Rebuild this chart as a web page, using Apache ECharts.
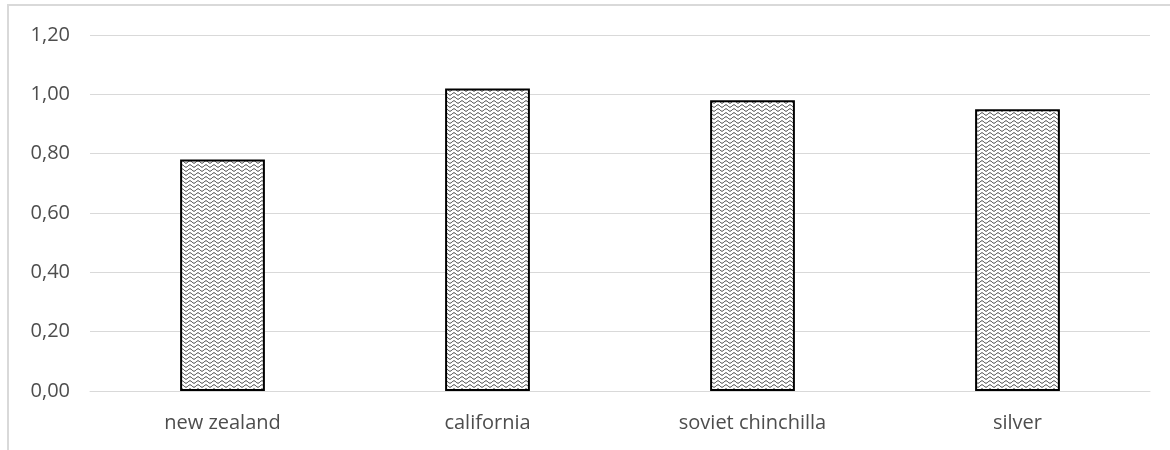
<!DOCTYPE html>
<html>
<head>
<meta charset="utf-8">
<script src="https://cdn.jsdelivr.net/npm/echarts@6/dist/echarts.min.js"></script>
<style>
html,body{margin:0;padding:0;background:#fff;}
#chart{width:1170px;height:450px;}
</style>
</head>
<body>
<div id="chart"></div>
<script>
const categories = ['new zealand', 'california', 'soviet chinchilla', 'silver'];
const values = [0.78, 1.02, 0.98, 0.95];
const yTicks = [0, 0.2, 0.4, 0.6, 0.8, 1.0, 1.2];

function makePattern() {
  const c = document.createElement('canvas');
  c.width = 8; c.height = 4;
  const ctx = c.getContext('2d');
  ctx.fillStyle = '#fff';
  ctx.fillRect(0, 0, 8, 4);
  ctx.strokeStyle = '#333';
  ctx.lineWidth = 1;
  ctx.beginPath();
  for (let x = 0; x <= 8; x += 0.5) {
    const y = 2 + 1.2 * Math.sin(x / 8 * Math.PI * 2);
    if (x === 0) ctx.moveTo(x, y); else ctx.lineTo(x, y);
  }
  ctx.stroke();
  return c;
}

const chart = echarts.init(document.getElementById('chart'));
chart.setOption({
  animation: false,
  backgroundColor: '#fff',
  graphic: [{
    type: 'rect',
    shape: { x: 8, y: 5, width: 1170, height: 460 },
    style: { fill: 'none', stroke: '#d9d9d9', lineWidth: 2 },
    silent: true
  }],
  grid: { left: 90, right: 20, top: 35, bottom: 59 },
  xAxis: {
    type: 'category',
    data: categories,
    axisLine: { show: true, lineStyle: { color: '#d9d9d9', width: 1 } },
    axisTick: { show: false },
    axisLabel: { color: '#4d4d4d', fontSize: 20, fontFamily: 'Open Sans', margin: 22 }
  },
  yAxis: {
    type: 'value',
    min: yTicks[0],
    max: yTicks[yTicks.length - 1],
    interval: 0.2,
    axisLine: { show: false },
    axisTick: { show: false },
    splitLine: { lineStyle: { color: '#d9d9d9', width: 1 } },
    axisLabel: {
      color: '#4d4d4d', fontSize: 20, fontFamily: 'Open Sans', margin: 20,
      formatter: v => v.toFixed(2).replace('.', ',')
    }
  },
  series: [{
    type: 'bar',
    data: values,
    barWidth: '32%',
    itemStyle: {
      color: { image: makePattern(), repeat: 'repeat' },
      borderColor: '#000',
      borderWidth: 2
    }
  }]
});
</script>
</body>
</html>
